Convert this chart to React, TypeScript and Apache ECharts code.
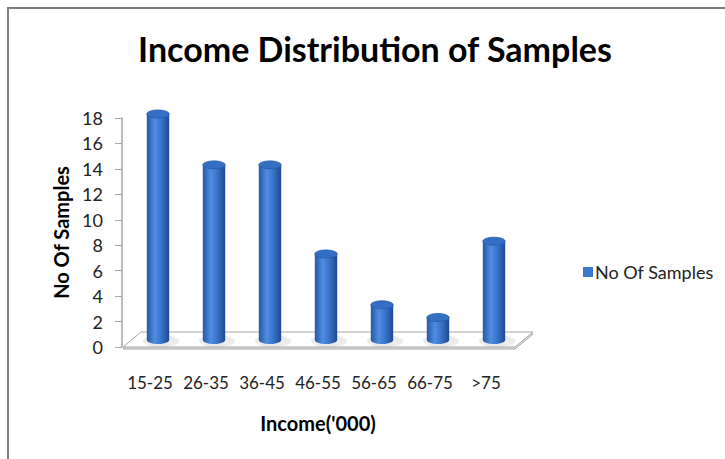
import React, { useEffect, useRef } from "react";
import * as echarts from "echarts";

const categories = ["15-25", "26-35", "36-45", "46-55", "56-65", "66-75", ">75"];
const samples = [18, 14, 14, 7, 3, 2, 8];
const yTicks = { min: 0, max: 18, interval: 2 };
const seriesName = "No Of Samples";

const FONT = "Lato, 'Open Sans', sans-serif";

export default function App() {
  const ref = useRef<HTMLDivElement>(null);

  useEffect(() => {
    if (!ref.current) return;
    const chart = echarts.init(ref.current, undefined, { renderer: "svg" });

    const bodyGrad = () =>
      new echarts.graphic.LinearGradient(0, 0, 1, 0, [
        { offset: 0, color: "#2757a3" },
        { offset: 0.35, color: "#4d8ee2" },
        { offset: 0.65, color: "#3874c9" },
        { offset: 1, color: "#1d4a93" },
      ]);

    const option: any = {
      animation: false,
      backgroundColor: "transparent",
      title: {
        text: "Income Distribution of Samples",
        left: 370,
        textAlign: "center",
        top: 26,
        textStyle: { fontFamily: FONT, fontWeight: "bold", fontSize: 34, color: "#000" },
      },
      legend: {
        data: [{ name: seriesName, icon: "rect" }],
        left: 578,
        top: 258,
        itemWidth: 10,
        itemHeight: 10,
        itemGap: 4,
        textStyle: { fontFamily: FONT, fontSize: 18, color: "#222", padding: [0, 0, 0, -3] },
      },
      grid: { left: 122, top: 118, right: 211, bottom: 112, containLabel: false },
      xAxis: {
        type: "category",
        data: categories,
        name: "Income('000)",
        nameLocation: "middle",
        nameGap: 66,
        nameTextStyle: { fontFamily: FONT, fontWeight: "bold", fontSize: 20, color: "#000" },
        axisLine: { show: false },
        axisTick: { show: false },
        axisLabel: { interval: 0, margin: 27, fontFamily: FONT, fontSize: 17, color: "#222" },
      },
      yAxis: {
        type: "value",
        min: yTicks.min,
        max: yTicks.max,
        interval: yTicks.interval,
        name: "No Of Samples",
        nameLocation: "middle",
        nameGap: 50,
        nameTextStyle: { fontFamily: FONT, fontWeight: "bold", fontSize: 20, color: "#000" },
        axisLine: { show: true, lineStyle: { color: "#a6a6a6", width: 1.5 } },
        axisTick: { show: true, length: 7, lineStyle: { color: "#a6a6a6" } },
        splitLine: { show: false },
        axisLabel: { margin: 19, fontFamily: FONT, fontSize: 18, color: "#222" },
      },
      series: [
        {
          type: "custom",
          name: "floor",
          silent: true,
          z: 1,
          data: [[0, 0]],
          renderItem: (params: any, api: any) => {
            const cs = params.coordSys;
            const fy = cs.y + cs.height;
            const fl = cs.x + 1;
            const fr = cs.x + cs.width + 1;
            const dx = 18;
            const dy = -15;
            return {
              type: "group",
              children: [
                {
                  type: "polygon",
                  shape: { points: [[fl, fy + 2], [fr, fy + 2], [fr + dx, fy + dy + 2], [fl + dx, fy + dy + 2]] },
                  style: { fill: "#e3e3e3", stroke: "#a6a6a6", lineWidth: 1 },
                },
                {
                  type: "polygon",
                  shape: { points: [[fl, fy], [fr, fy], [fr + dx, fy + dy], [fl + dx, fy + dy]] },
                  style: { fill: "#ffffff", stroke: "#a6a6a6", lineWidth: 1 },
                },
              ],
            };
          },
        },
        {
          type: "custom",
          name: seriesName,
          z: 2,
          itemStyle: { color: "#3c78cc" },
          data: samples.map((v, i) => [i, v]),
          encode: { x: 0, y: 1 },
          renderItem: (params: any, api: any) => {
            const idx = api.value(0);
            const v = api.value(1);
            const top = api.coord([idx, v]);
            const base = api.coord([idx, 0]);
            const bw = api.size([1, 0])[0] * 0.4;
            const rx = bw / 2;
            const ry = 4;
            const cx = top[0] + 8;
            const yTop = top[1] - 4;
            const yBot = base[1] - 7;
            return {
              type: "group",
              children: [
                {
                  type: "ellipse",
                  shape: { cx: cx + 3, cy: yBot + 1, rx: rx + 7, ry: ry + 2 },
                  style: { fill: "rgba(0,0,0,0.08)" },
                },
                {
                  type: "ellipse",
                  shape: { cx, cy: yBot, rx, ry },
                  style: { fill: bodyGrad() },
                },
                {
                  type: "rect",
                  shape: { x: cx - rx, y: yTop, width: bw, height: yBot - yTop },
                  style: { fill: bodyGrad() },
                },
                {
                  type: "ellipse",
                  shape: { cx, cy: yTop, rx, ry },
                  style: { fill: "#3370c4", stroke: "#2a5ca8", lineWidth: 0.8 },
                },
              ],
            };
          },
        },
      ],
    };

    chart.setOption(option);
    return () => chart.dispose();
  }, []);

  return (
    <div style={{ position: "fixed", left: 0, top: 0, width: 725, height: 459, background: "#fff", overflow: "hidden" }}>
      <div
        style={{
          position: "absolute",
          left: 7,
          top: 7,
          right: 0,
          bottom: 0,
          borderTop: "2px solid #7f7f7f",
          borderLeft: "2px solid #7f7f7f",
        }}
      />
      <div ref={ref} style={{ position: "absolute", left: 0, top: 0, width: 725, height: 459 }} />
    </div>
  );
}
